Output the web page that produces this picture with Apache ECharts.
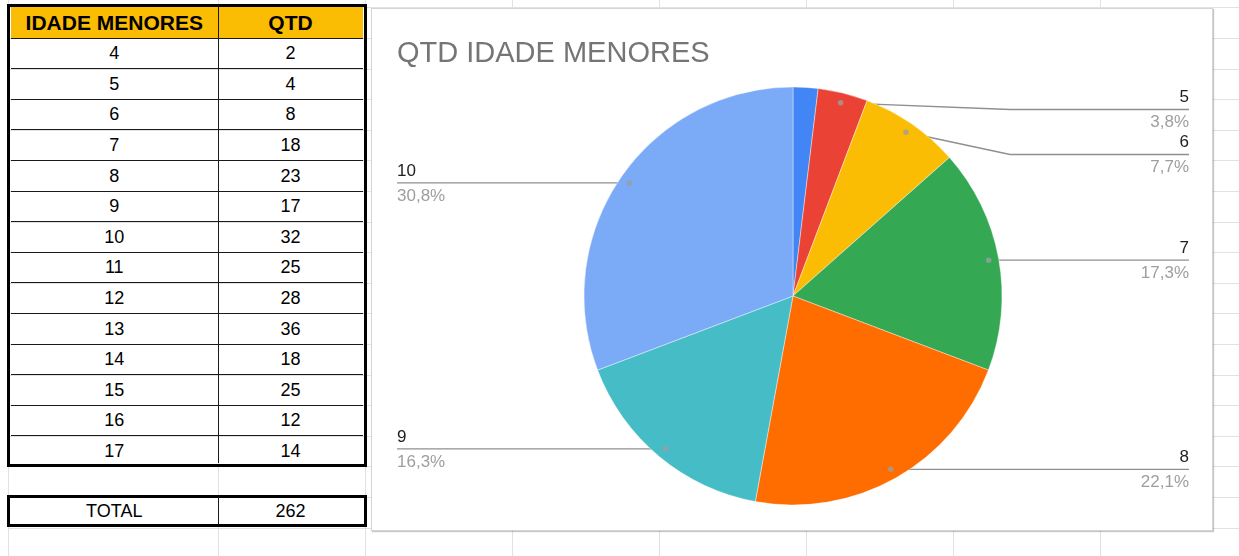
<!DOCTYPE html>
<html><head><meta charset="utf-8">
<script src="https://cdn.jsdelivr.net/npm/echarts@6/dist/echarts.min.js"></script>
<style>
html,body{margin:0;padding:0;background:#fff;width:1239px;height:556px;overflow:hidden;font-family:'Liberation Sans',Arial,sans-serif;}
.gl{position:absolute;background:#e1e2e3;}
.ln{position:absolute;background:#1a1a1a;}
.cell{position:absolute;display:flex;align-items:center;justify-content:center;font-size:18px;color:#000;line-height:1;}
.hdr{font-weight:bold;font-size:21px;}
</style></head><body>
<div id="sheet" style="position:absolute;left:0;top:0;width:1239px;height:556px;"></div>
<div id="box" style="position:absolute;left:371px;top:8px;width:842px;height:523px;box-sizing:border-box;border:1px solid #d4d4d4;box-shadow:1px 1px 1px rgba(0,0,0,0.22);background:#fff;"></div>
<div id="chart" style="position:absolute;left:372px;top:9px;width:840px;height:521px;"></div>
<script>
// ---- table data ----
var headers = ['IDADE MENORES', 'QTD'];
var ages = ['4','5','6','7','8','9','10','11','12','13','14','15','16','17'];
var counts = [2, 4, 8, 18, 23, 17, 32, 25, 28, 36, 18, 25, 12, 14];
var totalLabel = 'TOTAL';
// ---- chart data ----
var chartTitle = 'QTD IDADE MENORES';
var pieAges = ['4','5','6','7','8','9','10'];
var pieCounts = [2, 4, 8, 18, 23, 17, 32];
var sliceColors = ['#4285f4','#ea4335','#fbbc04','#34a853','#ff6d01','#46bdc6','#7baaf7'];

// ---- spreadsheet background grid ----
var sheet = document.getElementById('sheet');
var ROW0 = 7.4, RH = 30.6;
var colXs = [8, 218, 365, 512, 659, 806, 953, 1100];
function addDiv(cls, l, t, w, h, extra) {
  var d = document.createElement('div'); d.className = cls;
  d.style.left = l + 'px'; d.style.top = t + 'px'; d.style.width = w + 'px'; d.style.height = h + 'px';
  if (extra) for (var k in extra) d.style[k] = extra[k];
  sheet.appendChild(d); return d;
}
for (var k = 0; k < 19; k++) addDiv('gl', 8, ROW0 + k * RH, 1231, 1);
colXs.forEach(function (x) { addDiv('gl', x, 0, 1, 556); });

// ---- table ----
var C0 = 10.5, CDIV = 218, C1 = 363;
addDiv('', C0, ROW0, C1 - C0, RH, {background: '#fbbc04', position: 'absolute'});
addDiv('', 7, 3.5, 359.5, 463, {border: '3.5px solid #000', boxSizing: 'border-box', position: 'absolute'});
for (var i = 1; i <= ages.length; i++) addDiv('ln', C0, ROW0 + i * RH - 0.5, C1 - C0, 1);
addDiv('ln', CDIV, 7, 1, 456);
function cell(txt, l, r, t, cls) {
  var d = addDiv('cell' + (cls ? ' ' + cls : ''), l, t, r - l, RH);
  d.textContent = txt;
}
cell(headers[0], C0, CDIV, ROW0, 'hdr');
cell(headers[1], CDIV, C1, ROW0, 'hdr');
for (var i = 0; i < ages.length; i++) {
  cell(ages[i], C0, CDIV, ROW0 + (i + 1) * RH);
  cell(String(counts[i]), CDIV, C1, ROW0 + (i + 1) * RH);
}
var total = counts.reduce(function (a, b) { return a + b; }, 0);
addDiv('', 7, 495, 359.5, 31.7, {background: '#fff', border: '3px solid #000', boxSizing: 'border-box', position: 'absolute'});
addDiv('ln', CDIV, 497, 1, 27);
cell(totalLabel, C0, CDIV, 495.5);
cell(String(total), CDIV, C1, 495.5);

// ---- pie chart ----
var pieTotal = pieCounts.reduce(function (a, b) { return a + b; }, 0);
var DOT_K = 0.952;
var MIN_ANGLE = 7;
var LABEL_H = 45;
var cum = 0, dots = [];
pieCounts.forEach(function (v) {
  if (v / pieTotal * 360 >= MIN_ANGLE) dots.push([DOT_K, cum + v / 2]);
  cum += v;
});
function pct(v) { return (v / pieTotal * 100).toFixed(1).replace('.', ',') + '%'; }

var chart = echarts.init(document.getElementById('chart'), null, {renderer: 'canvas'});
var FONT = 'Liberation Sans';

// Label y placement (Google-like): at the dot height, pushed apart and kept below the pie top
function labelYs() {
  var data = chart.getModel().getSeriesByIndex(0).getData();
  var items = [];
  for (var i = 0; i < pieCounts.length; i++) {
    if (pieCounts[i] / pieTotal * 360 < MIN_ANGLE) continue;
    var lay = data.getItemLayout(i);
    var mid = (lay.startAngle + lay.endAngle) / 2;
    items.push({i: i, right: Math.cos(mid) >= 0, y: lay.cy + Math.sin(mid) * lay.r * DOT_K,
      top: lay.cy - lay.r});
  }
  var out = {};
  [true, false].forEach(function (side) {
    var list = items.filter(function (it) { return it.right === side; })
      .sort(function (a, b) { return a.y - b.y; });
    var prev = -Infinity;
    list.forEach(function (it) {
      var y = Math.max(it.y, it.top + LABEL_H / 2, prev + LABEL_H);
      out[it.i] = y; prev = y;
    });
  });
  return out;
}

chart.setOption({
  animation: false,
  title: {
    text: chartTitle, left: 20, top: 25,
    textStyle: {fontSize: 29, fontWeight: 'normal', color: '#757575', fontFamily: FONT}
  },
  polar: {center: [421, 287], radius: 209},
  angleAxis: {type: 'value', min: 0, max: pieTotal, startAngle: 90, clockwise: true, show: false,
    axisLine: {show: false}, axisTick: {show: false}, axisLabel: {show: false}, splitLine: {show: false}},
  radiusAxis: {type: 'value', min: 0, max: 1, show: false,
    axisLine: {show: false}, axisTick: {show: false}, axisLabel: {show: false}, splitLine: {show: false}},
  series: [{
    type: 'pie', left: 2, right: 0, top: 78, bottom: 25,
    radius: '100%', center: ['50%', '50%'], startAngle: 90, clockwise: true,
    minShowLabelAngle: MIN_ANGLE,
    emphasis: {disabled: true}, silent: true,
    itemStyle: {borderColor: '#fff', borderWidth: 0.4},
    label: {
      show: true, position: 'outside', alignTo: 'edge', edgeDistance: 23,
      fontFamily: FONT,
      formatter: function (p) { return '{n|' + p.name + '}\n{p|' + pct(p.value) + '}'; },
      rich: {
        n: {fontSize: 17, color: '#212121', lineHeight: 26, fontFamily: FONT},
        p: {fontSize: 17, color: '#9e9e9e', lineHeight: 24, fontFamily: FONT}
      }
    },
    labelLine: {show: true, length: -10, length2: 10, smooth: false, lineStyle: {color: '#8f8f8f', width: 1.3}},
    labelLayout: function (p) {
      if (!p.labelLinePoints) return {};
      var lay = chart.getModel().getSeriesByIndex(0).getData().getItemLayout(p.dataIndex);
      var cx = lay.cx, cy = lay.cy, R = lay.r;
      var mid = (lay.startAngle + lay.endAngle) / 2;
      var dot = [cx + Math.cos(mid) * R * DOT_K, cy + Math.sin(mid) * R * DOT_K];
      var ys = labelYs();
      var rr = p.labelRect;
      var y = ys[p.dataIndex] != null ? ys[p.dataIndex] : rr.y + rr.height / 2;
      var right = Math.cos(mid) >= 0;
      var end = [right ? rr.x + rr.width : rr.x, y];
      var pts;
      if (Math.abs(dot[1] - y) < 1.5) pts = [dot, [dot[0], y], end];
      else pts = [dot, [cx + (right ? 1 : -1) * (R + 8), y], end];
      return {y: y, labelLinePoints: pts};
    },
    data: pieAges.map(function (a, i) { return {name: a, value: pieCounts[i], itemStyle: {color: sliceColors[i]}}; })
  }, {
    type: 'scatter', coordinateSystem: 'polar', silent: true, z: 5,
    symbolSize: 5.5, itemStyle: {color: '#9e9e9e'},
    data: dots
  }]
});
</script>
</body></html>
